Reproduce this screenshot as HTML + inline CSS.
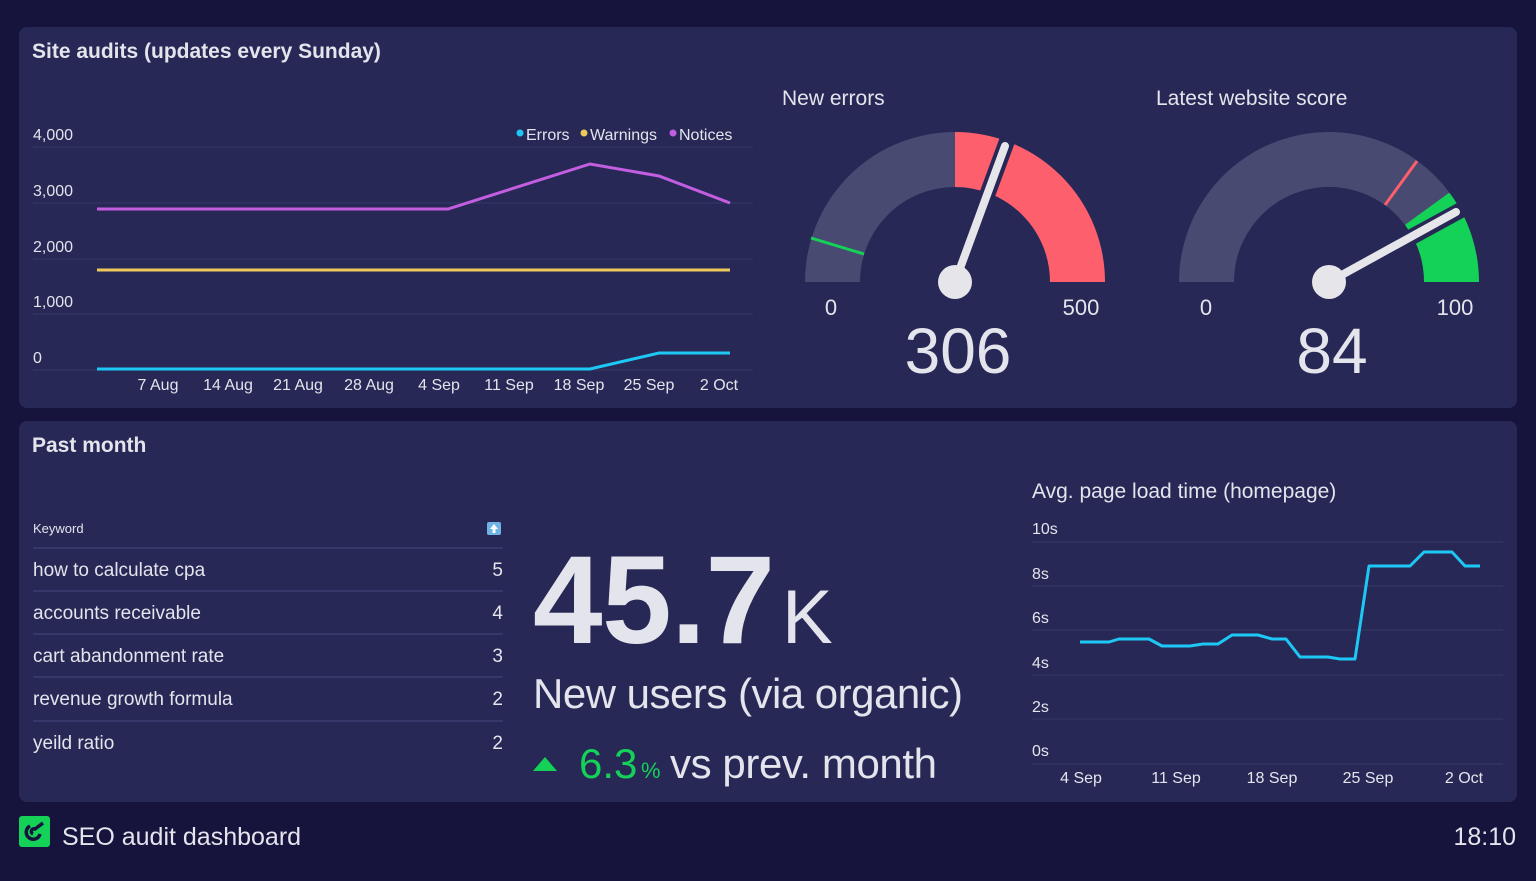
<!DOCTYPE html>
<html><head><meta charset="utf-8"><style>
html,body{margin:0;padding:0;background:#16133d;}
svg{display:block}
text{font-family:"Liberation Sans",sans-serif;fill:#e4e4ec}
</style></head><body>
<svg width="1536" height="881" viewBox="0 0 1536 881" xmlns="http://www.w3.org/2000/svg">
<rect width="1536" height="881" fill="#16133d"/>
<rect x="19" y="27" width="1498" height="381" rx="8" fill="#272856"/>
<rect x="19" y="421" width="1498" height="381" rx="8" fill="#272856"/>

<text x="32" y="58" font-size="21" font-weight="bold">Site audits (updates every Sunday)</text>
<text x="32" y="452" font-size="21" font-weight="bold">Past month</text>

<!-- top chart -->
<g stroke="#363866" stroke-width="1">
<line x1="33" y1="147" x2="753" y2="147"/><line x1="33" y1="203" x2="753" y2="203"/>
<line x1="33" y1="259" x2="753" y2="259"/><line x1="33" y1="314" x2="753" y2="314"/>
<line x1="33" y1="370" x2="753" y2="370"/>
</g>
<g font-size="16">
<text x="33" y="140">4,000</text><text x="33" y="196">3,000</text><text x="33" y="252">2,000</text>
<text x="33" y="307">1,000</text><text x="33" y="363">0</text>
</g>
<g font-size="16" text-anchor="middle">
<text x="158" y="390">7 Aug</text><text x="228" y="390">14 Aug</text><text x="298" y="390">21 Aug</text>
<text x="369" y="390">28 Aug</text><text x="439" y="390">4 Sep</text><text x="509" y="390">11 Sep</text>
<text x="579" y="390">18 Sep</text><text x="649" y="390">25 Sep</text><text x="719" y="390">2 Oct</text>
</g>
<g font-size="16">
<circle cx="520" cy="133" r="3.5" fill="#1ec8f5"/><text x="526" y="140">Errors</text>
<circle cx="584" cy="133" r="3.5" fill="#ecc95a"/><text x="590" y="140">Warnings</text>
<circle cx="673" cy="133" r="3.5" fill="#c35ee0"/><text x="679" y="140">Notices</text>
</g>
<polyline fill="none" stroke="#c35ee0" stroke-width="3" points="97,209 448,209 590,164 659,176 730,203"/>
<polyline fill="none" stroke="#ecc95a" stroke-width="3" points="97,270 730,270"/>
<polyline fill="none" stroke="#1ec8f5" stroke-width="3" points="97,369 590,369 659,353 730,353"/>

<!-- gauge 1 -->
<text x="782" y="105" font-size="21">New errors</text>
<path d="M832.5 282 A122.5 122.5 0 0 1 955 159.5" fill="none" stroke="#484a72" stroke-width="55"/>
<path d="M955 159.5 A122.5 122.5 0 0 1 1077.5 282" fill="none" stroke="#fe5f6c" stroke-width="55"/>
<line x1="864" y1="254" x2="811" y2="238" stroke="#14d257" stroke-width="3"/>
<line x1="955" y1="282" x2="1007" y2="141" stroke="#272856" stroke-width="16" stroke-linecap="round"/>
<line x1="955" y1="282" x2="1005" y2="146" stroke="#e6e6ea" stroke-width="8" stroke-linecap="round"/>
<circle cx="955" cy="282" r="17" fill="#e6e6ea"/>
<text x="831" y="315" font-size="22" text-anchor="middle">0</text>
<text x="1081" y="315" font-size="22" text-anchor="middle">500</text>
<text x="958" y="373" font-size="64" text-anchor="middle">306</text>

<!-- gauge 2 -->
<text x="1156" y="105" font-size="21">Latest website score</text>
<path d="M1206.5 282 A122.5 122.5 0 0 1 1428.1 210" fill="none" stroke="#484a72" stroke-width="55"/>
<path d="M1428.1 210 A122.5 122.5 0 0 1 1451.5 282" fill="none" stroke="#14d257" stroke-width="55"/>
<line x1="1385" y1="205" x2="1417" y2="161" stroke="#fe5f6c" stroke-width="3"/>
<line x1="1406" y1="226" x2="1450" y2="194" stroke="#14d257" stroke-width="3"/>
<line x1="1329" y1="282" x2="1461" y2="210" stroke="#272856" stroke-width="16" stroke-linecap="round"/>
<line x1="1329" y1="282" x2="1456" y2="212" stroke="#e6e6ea" stroke-width="8" stroke-linecap="round"/>
<circle cx="1329" cy="282" r="17" fill="#e6e6ea"/>
<text x="1206" y="315" font-size="22" text-anchor="middle">0</text>
<text x="1455" y="315" font-size="22" text-anchor="middle">100</text>
<text x="1332" y="373" font-size="64" text-anchor="middle">84</text>

<!-- table -->
<text x="33" y="533" font-size="13" fill="#c8c8d8">Keyword</text>
<rect x="487" y="522" width="14" height="13" rx="2" fill="#6fb2e6"/>
<path d="M494 524 l4 5 h-2.5 v4 h-3 v-4 h-2.5z" fill="#ffffff"/>
<g stroke="#3c3e70" stroke-width="1.5">
<line x1="33" y1="548" x2="503" y2="548"/><line x1="33" y1="591" x2="503" y2="591"/>
<line x1="33" y1="634" x2="503" y2="634"/><line x1="33" y1="677" x2="503" y2="677"/>
<line x1="33" y1="721" x2="503" y2="721"/>
</g>
<g font-size="19">
<text x="33" y="576">how to calculate cpa</text><text x="503" y="576" text-anchor="end">5</text>
<text x="33" y="619">accounts receivable</text><text x="503" y="619" text-anchor="end">4</text>
<text x="33" y="662">cart abandonment rate</text><text x="503" y="662" text-anchor="end">3</text>
<text x="33" y="705">revenue growth formula</text><text x="503" y="705" text-anchor="end">2</text>
<text x="33" y="749">yeild ratio</text><text x="503" y="749" text-anchor="end">2</text>
</g>

<!-- big number -->
<text x="533" y="643" font-size="125" font-weight="bold" textLength="242">45.7</text>
<text x="782" y="643" font-size="76">K</text>
<text x="533" y="708" font-size="42" textLength="430">New users (via organic)</text>
<path d="M533 771 l12 -14 l12 14z" fill="#14d257"/>
<text x="579" y="778" font-size="42" style="fill:#14d257">6.3</text>
<text x="641" y="778" font-size="22" style="fill:#14d257">%</text>
<text x="670" y="778" font-size="42" textLength="267">vs prev. month</text>

<!-- load time chart -->
<text x="1032" y="498" font-size="21">Avg. page load time (homepage)</text>
<g stroke="#363866" stroke-width="1">
<line x1="1032" y1="542" x2="1503" y2="542"/><line x1="1032" y1="586" x2="1503" y2="586"/>
<line x1="1032" y1="630" x2="1503" y2="630"/><line x1="1032" y1="675" x2="1503" y2="675"/>
<line x1="1032" y1="719" x2="1503" y2="719"/><line x1="1032" y1="764" x2="1503" y2="764"/>
</g>
<g font-size="16">
<text x="1032" y="534">10s</text><text x="1032" y="579">8s</text><text x="1032" y="623">6s</text>
<text x="1032" y="668">4s</text><text x="1032" y="712">2s</text><text x="1032" y="756">0s</text>
</g>
<g font-size="16" text-anchor="middle">
<text x="1081" y="783">4 Sep</text><text x="1176" y="783">11 Sep</text><text x="1272" y="783">18 Sep</text>
<text x="1368" y="783">25 Sep</text><text x="1464" y="783">2 Oct</text>
</g>
<polyline fill="none" stroke="#1ec8f5" stroke-width="3" stroke-linejoin="round" points="1080,642 1109,642 1119,639 1149,639 1162,646 1190,646 1203,644 1218,644 1232,635 1258,635 1272,639 1286,639 1300,657 1328,657 1340,659 1355,659 1369,566 1410,566 1424,552 1452,552 1465,566 1480,566"/>

<!-- footer -->
<rect x="19" y="816" width="31" height="31" rx="3" fill="#14d257"/>
<path d="M30 826 a7 7 0 1 0 10 8 M33 834 a2.5 2.5 0 0 1 2 -5 l8 -6" fill="none" stroke="#16133d" stroke-width="3.5"/>
<text x="62" y="845" font-size="25">SEO audit dashboard</text>
<text x="1516" y="845" font-size="25" text-anchor="end">18:10</text>
</svg>
</body></html>
